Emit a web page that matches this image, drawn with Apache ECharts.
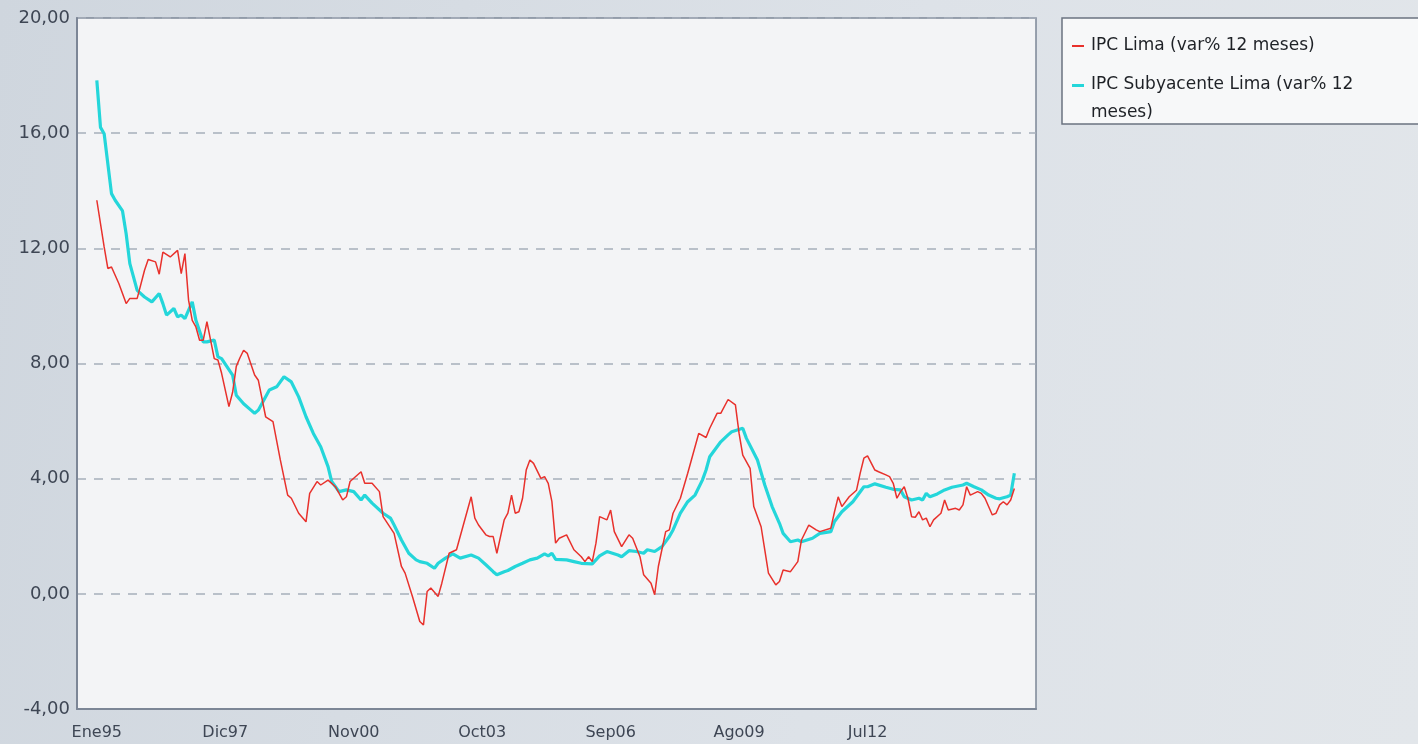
<!DOCTYPE html>
<html>
<head>
<meta charset="utf-8">
<script src="https://cdn.jsdelivr.net/npm/echarts@6/dist/echarts.min.js"></script>
<style>
  html, body { margin: 0; padding: 0; }
  body { background: linear-gradient(100deg, #cfd6de 0%, #dde2e8 60%, #e2e6ea 100%); }
  #chart { width: 1418px; height: 744px; }
</style>
</head>
<body>
<div id="chart"></div>
<script>
// meses contados desde Ene95 (0 = Ene95)
const tickMonths = [0, 35, 70, 105, 140, 175, 210]
const tickLabels = ['Ene95', 'Dic97', 'Nov00', 'Oct03', 'Sep06', 'Ago09', 'Jul12']

const limaName = 'IPC Lima (var% 12 meses)'
const coreName = 'IPC Subyacente Lima (var% 12 meses)'

const limaMonths = [0, 2, 3, 4, 6, 8, 9, 11, 13, 14, 16, 17, 18, 20, 22, 23, 24, 25, 26, 27, 28, 29, 30, 31, 32, 33, 34, 36, 37, 38, 39, 40, 41, 43, 44, 46, 48, 50, 52, 53, 55, 57, 58, 60, 61, 63, 65, 67, 68, 69, 72, 73, 75, 77, 78, 81, 83, 84, 86, 88, 89, 90, 91, 93, 94, 96, 98, 100, 102, 103, 104, 106, 107, 108, 109, 111, 112, 113, 114, 115, 116, 117, 118, 119, 121, 122, 123, 124, 125, 126, 128, 130, 132, 133, 134, 135, 136, 137, 139, 140, 141, 143, 145, 146, 148, 149, 151, 152, 153, 155, 156, 157, 159, 161, 162, 164, 166, 167, 169, 170, 172, 174, 175, 176, 178, 179, 181, 182, 183, 185, 186, 187, 189, 191, 192, 194, 196, 197, 200, 201, 202, 203, 205, 207, 208, 209, 210, 212, 213, 215, 216, 217, 218, 219, 220, 221, 222, 223, 224, 225, 226, 227, 228, 230, 231, 232, 234, 235, 236, 237, 238, 240, 241, 242, 244, 245, 246, 247, 248, 249, 250]
const limaValues = [13.67, 12.05, 11.3, 11.35, 10.78, 10.08, 10.26, 10.26, 11.24, 11.61, 11.53, 11.1, 11.87, 11.7, 11.93, 11.12, 11.82, 10.2, 9.5, 9.27, 8.81, 8.81, 9.45, 8.81, 8.17, 8.12, 7.66, 6.5, 7.0, 7.9, 8.2, 8.46, 8.35, 7.6, 7.42, 6.15, 5.98, 4.65, 3.43, 3.32, 2.8, 2.5, 3.49, 3.9, 3.78, 3.95, 3.72, 3.26, 3.37, 3.9, 4.24, 3.84, 3.84, 3.55, 2.68, 2.1, 0.95, 0.72, -0.09, -0.96, -1.08, 0.08, 0.2, -0.09, 0.37, 1.41, 1.53, 2.45, 3.37, 2.63, 2.39, 2.05, 1.99, 1.99, 1.41, 2.57, 2.8, 3.43, 2.8, 2.85, 3.32, 4.3, 4.65, 4.53, 4.01, 4.07, 3.84, 3.2, 1.76, 1.93, 2.05, 1.53, 1.29, 1.12, 1.29, 1.12, 1.76, 2.68, 2.57, 2.91, 2.16, 1.64, 2.05, 1.93, 1.29, 0.66, 0.37, -0.03, 0.95, 2.16, 2.22, 2.8, 3.32, 4.19, 4.65, 5.57, 5.43, 5.75, 6.27, 6.27, 6.75, 6.56, 5.57, 4.82, 4.36, 3.03, 2.33, 1.53, 0.72, 0.31, 0.43, 0.83, 0.77, 1.12, 1.87, 2.39, 2.22, 2.16, 2.28, 2.85, 3.37, 3.03, 3.37, 3.6, 4.19, 4.71, 4.79, 4.3, 4.24, 4.13, 4.07, 3.84, 3.32, 3.55, 3.72, 3.32, 2.68, 2.66, 2.85, 2.57, 2.63, 2.33, 2.57, 2.8, 3.26, 2.91, 2.97, 2.91, 3.09, 3.72, 3.43, 3.55, 3.49, 3.32, 2.74, 2.8, 3.09, 3.2, 3.09, 3.26, 3.66]

const coreMonths = [0, 1, 2, 4, 5, 7, 8, 9, 11, 13, 15, 17, 18, 19, 21, 22, 23, 24, 26, 27, 29, 30, 32, 33, 34, 37, 38, 40, 42, 43, 44, 47, 49, 51, 53, 55, 57, 59, 61, 63, 64, 66, 68, 70, 72, 73, 75, 78, 80, 81, 83, 85, 87, 88, 90, 92, 93, 95, 97, 99, 102, 104, 106, 108, 109, 111, 112, 114, 116, 118, 120, 122, 123, 124, 125, 128, 130, 132, 135, 137, 139, 142, 143, 145, 147, 149, 150, 152, 154, 156, 157, 159, 161, 163, 165, 166, 167, 170, 172, 173, 176, 177, 180, 182, 184, 186, 187, 189, 191, 192, 195, 197, 200, 201, 203, 206, 207, 209, 210, 212, 215, 217, 219, 220, 222, 224, 225, 226, 227, 229, 231, 233, 236, 237, 239, 241, 243, 245, 246, 248, 249, 250]
const coreValues = [17.83, 16.2, 15.98, 13.9, 13.67, 13.3, 12.5, 11.47, 10.54, 10.31, 10.14, 10.43, 10.08, 9.68, 9.91, 9.62, 9.68, 9.56, 10.14, 9.5, 8.75, 8.75, 8.81, 8.23, 8.17, 7.6, 6.9, 6.6, 6.38, 6.27, 6.38, 7.08, 7.19, 7.54, 7.36, 6.84, 6.15, 5.57, 5.11, 4.42, 3.9, 3.55, 3.61, 3.55, 3.26, 3.43, 3.15, 2.8, 2.63, 2.39, 1.87, 1.41, 1.18, 1.12, 1.06, 0.89, 1.06, 1.24, 1.39, 1.24, 1.35, 1.24, 1.01, 0.77, 0.66, 0.77, 0.81, 0.95, 1.06, 1.18, 1.24, 1.39, 1.32, 1.41, 1.2, 1.18, 1.12, 1.06, 1.04, 1.32, 1.47, 1.35, 1.29, 1.5, 1.47, 1.41, 1.53, 1.47, 1.64, 1.99, 2.22, 2.8, 3.2, 3.43, 3.95, 4.3, 4.76, 5.28, 5.52, 5.63, 5.75, 5.4, 4.65, 3.78, 3.03, 2.45, 2.1, 1.81, 1.87, 1.81, 1.93, 2.1, 2.16, 2.51, 2.85, 3.2, 3.37, 3.72, 3.72, 3.82, 3.7, 3.63, 3.61, 3.37, 3.26, 3.32, 3.26, 3.49, 3.37, 3.47, 3.61, 3.7, 3.78, 3.84, 3.72, 3.61, 3.43, 3.32, 3.3, 3.37, 3.43, 4.19]

const textFont = 'DejaVu Sans'

let chart = echarts.init(document.getElementById('chart'))

const option = {
  animation: false,
  textStyle: { fontFamily: textFont },
  grid: {
    left: 77,
    right: 382,
    top: 18,
    bottom: 35,
    show: true,
    backgroundColor: '#f3f4f6',
    borderColor: '#7c8696',
    borderWidth: 1.5
  },
  // cuadro de la leyenda
  graphic: [
    {
      type: 'rect',
      shape: { x: 1062, y: 18, width: 400, height: 106 },
      style: { fill: '#f7f8f9', stroke: '#6b7380', lineWidth: 1.5 },
      z: 0
    }
  ],
  legend: {
    orient: 'vertical',
    left: 1067,
    top: 26,
    itemGap: 10,
    itemWidth: 12,
    itemHeight: 30,
    symbolKeepAspect: false,
    selectedMode: false,
    textStyle: { fontFamily: textFont, fontSize: 17, color: '#1e2126', lineHeight: 28, padding: [0, 0, 0, 2] },
    data: [
      { name: limaName, icon: 'path://M0,14H12V16H0Z M0,0h0.01v0.01H0Z M0,30h0.01v0.01H0Z' },
      { name: coreName, icon: 'path://M0,0H12V3H0Z M0,30h0.01v0.01H0Z' }
    ],
    formatter: function (name) {
      return name === coreName ? 'IPC Subyacente Lima (var% 12\nmeses)' : name
    }
  },
  xAxis: {
    type: 'value',
    min: -5.4,
    max: 255.9,
    splitLine: { show: false },
    axisTick: { show: false },
    axisLine: { show: true, onZero: false, lineStyle: { color: '#7c8696', width: 2 } },
    axisLabel: {
      customValues: tickMonths,
      margin: 16,
      fontSize: 16,
      color: '#3e4654',
      formatter: function (v) {
        const i = tickMonths.indexOf(Math.round(v))
        return i >= 0 ? tickLabels[i] : ''
      }
    }
  },
  yAxis: {
    type: 'value',
    min: -4,
    max: 20,
    interval: 4,
    axisTick: { show: false },
    axisLine: { show: true, onZero: false, lineStyle: { color: '#7c8696', width: 2 } },
    axisLabel: {
      margin: 7,
      fontSize: 18,
      color: '#3e4654',
      formatter: function (v) {
        return v.toFixed(2).replace('.', ',')
      }
    },
    splitLine: {
      show: true,
      lineStyle: { color: '#a7aebb', width: 1.5, type: [9, 8] }
    }
  },
  series: [
    {
      name: limaName,
      type: 'line',
      color: '#e8312c',
      showSymbol: false,
      lineStyle: { width: 1.5, color: '#e8312c' },
      itemStyle: { color: '#e8312c' },
      data: limaMonths.map((m, i) => [m, limaValues[i]]),
      z: 3
    },
    {
      name: coreName,
      type: 'line',
      color: '#24d6da',
      showSymbol: false,
      lineStyle: { width: 3.2, color: '#24d6da' },
      itemStyle: { color: '#24d6da' },
      data: coreMonths.map((m, i) => [m, coreValues[i]]),
      z: 2
    }
  ]
}

chart.setOption(option)
</script>
</body>
</html>
